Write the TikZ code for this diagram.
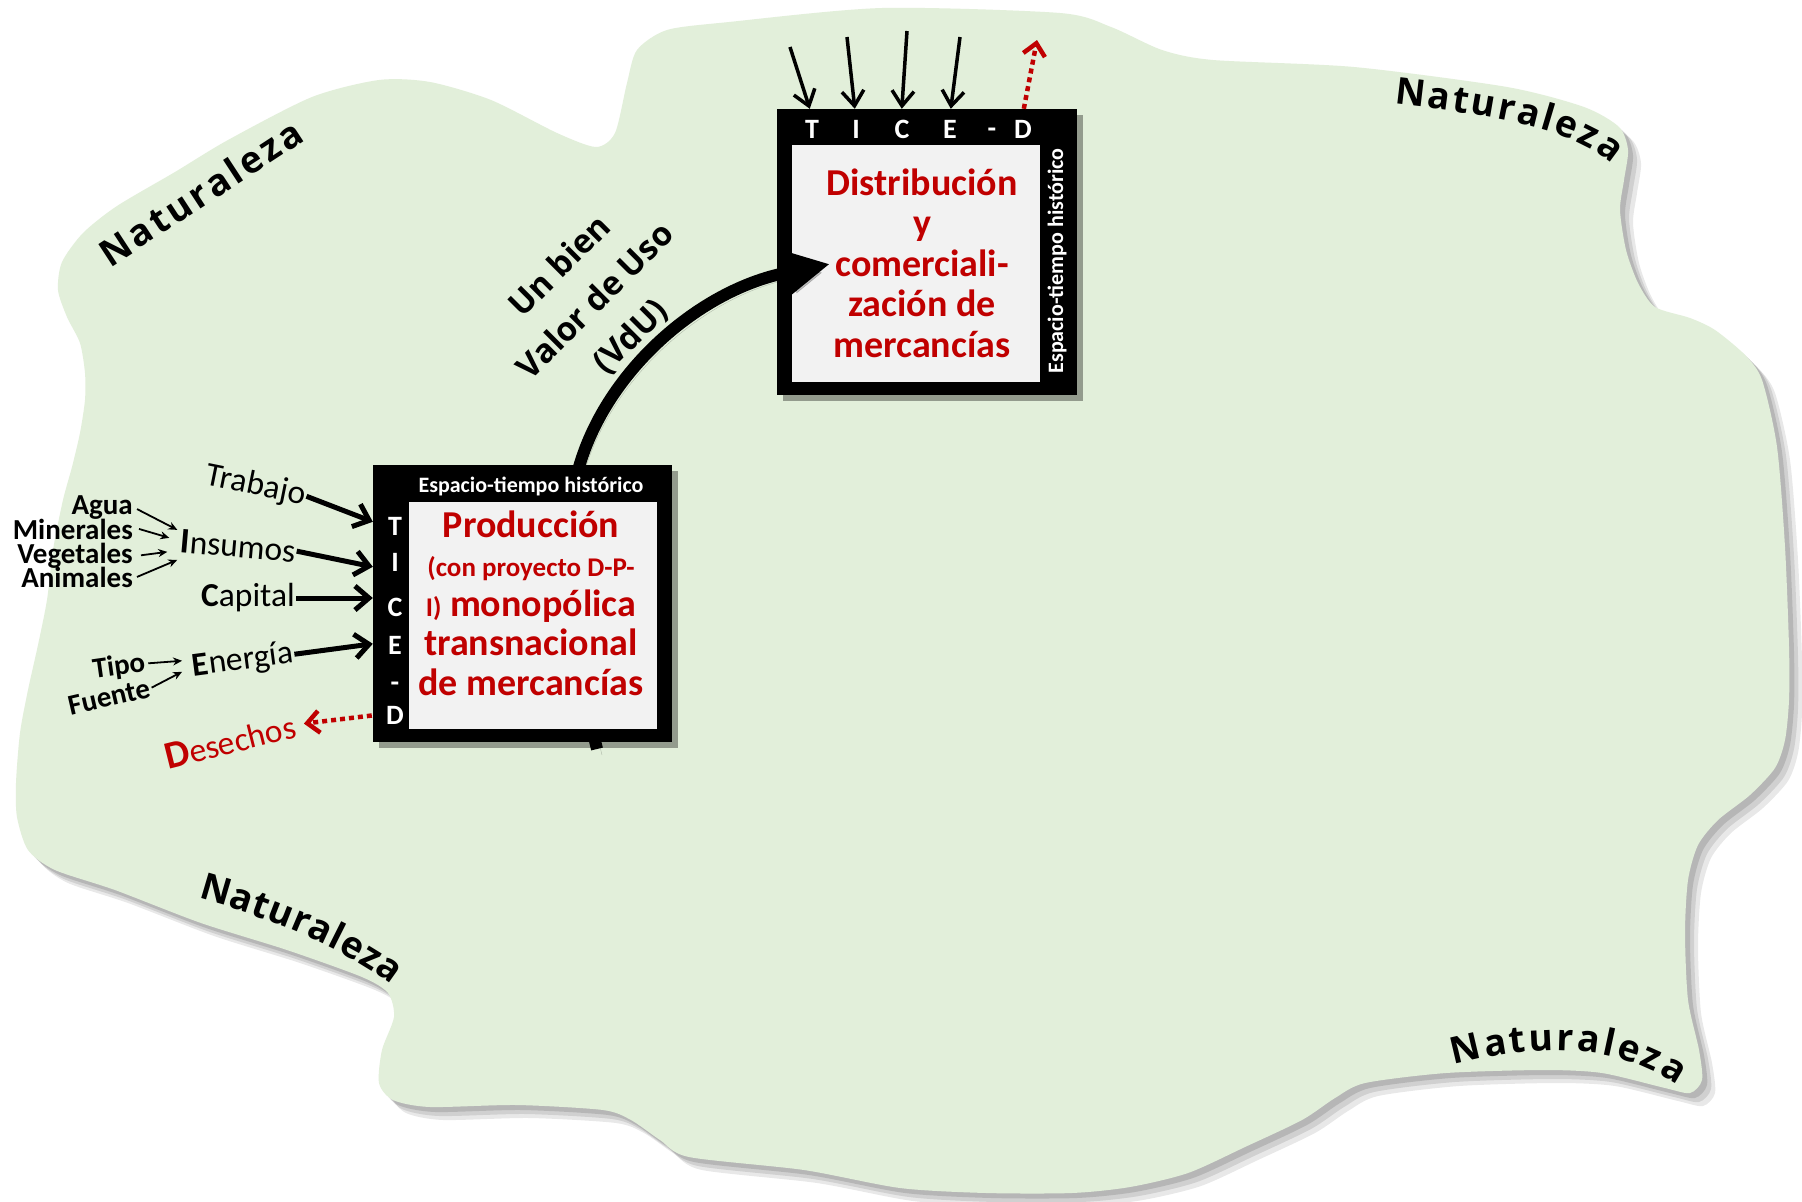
\documentclass[tikz,border=0pt]{standalone}
\usepackage{fontspec}
\setmainfont{Carlito}
\newfontfamily\osans{Open Sans}
\usetikzlibrary{arrows.meta,calc,shadows,decorations.text}
\definecolor{natgreen}{RGB}{226,239,218}
\definecolor{boxgray}{RGB}{242,242,242}
\definecolor{darkred}{RGB}{192,0,0}
\newcommand{\fsz}[1]{\fontsize{#1}{#1}\selectfont}
\newcommand{\naturfont}{\osans\bfseries\fontsize{37}{40}\selectfont}
\tikzset{
  lbl/.style={inner sep=1pt, font=\fsz{33.5}},
  src/.style={inner sep=0pt, font=\bfseries\fsz{29}},
  inarrow/.style={line width=5pt, -{Straight Barb[length=14pt,width=24pt]}},
  toparrow/.style={line width=3.5pt, -{Straight Barb[length=15pt,width=22pt]}},
  smallarrow/.style={line width=1.8pt, -{Stealth[length=9pt,width=8pt]}},
  wastearrow/.style={draw=darkred, line width=4.5pt, dash pattern=on 5pt off 4pt, -{Straight Barb[length=12pt,width=22pt]}},
  tice/.style={text=white, font=\bfseries\fsz{28}, inner sep=0pt},
  redtxt/.style={text=darkred, align=center, inner sep=0pt},
  header/.style={text=white, font=\bfseries\fsz{22}, inner sep=0pt},
  naturtext/.style={decorate, decoration={text along path, text={|\naturfont|Naturaleza}, text align=fit to path}},
  boxshadow/.style={drop shadow={shadow xshift=6pt, shadow yshift=-6pt, opacity=0.35, fill=black}},
}
\begin{document}
\begin{tikzpicture}[x=1pt,y=-1pt]
\fill[white, use as bounding box] (0,0) rectangle (1802,1202);

% nature blob
\path[fill=natgreen,
  preaction={fill=black, opacity=0.09, transform canvas={shift={(13pt,-13pt)}}},
  preaction={fill=black, opacity=0.10, transform canvas={shift={(9pt,-9pt)}}},
  preaction={fill=black, opacity=0.12, transform canvas={shift={(5pt,-5pt)}}}]
  plot[smooth cycle, tension=0.45] coordinates {
  (47,600) (53,550) (63,500) (72,467) (80,433) (85,400) (85,373) (80,343) (67,317)
  (58,290) (62,262) (83,233) (117,206) (175,172) (228,140) (312,97) (379,80)
  (430,82) (491,100) (557,133) (596,147) (615,133) (627,83) (637,50) (667,30)
  (729,22) (882,8) (1060,13) (1111,27) (1162,50) (1213,60) (1354,67) (1507,87)
  (1584,107) (1619,127) (1628,150) (1624,180) (1620,210) (1626,250) (1638,283)
  (1655,307) (1690,318) (1715,330) (1745,355) (1762,380) (1777,447) (1785,547)
  (1789,647) (1789,700) (1785,740) (1775,768) (1750,795) (1718,820) (1698,845)
  (1688,880) (1685,933) (1688,1000) (1699,1050) (1702,1080) (1690,1093)
  (1665,1088) (1602,1073) (1544,1070) (1446,1073) (1365,1083) (1335,1098)
  (1302,1120) (1245,1147) (1188,1173) (1130,1187) (1072,1193) (986,1193)
  (900,1188) (804,1170) (689,1157) (660,1140) (631,1120) (603,1110) (517,1105)
  (430,1107) (393,1100) (379,1083) (382,1050) (394,1017) (388,993) (362,977)
  (287,950) (201,923) (115,890) (55,870) (28,850) (17,817) (16,783) (20,733)
  (28,690) (38,645)};

% Naturaleza labels
\path[naturtext] (110,268) -- (306,140);
\path[naturtext] (1394,104) .. controls (1500,116) and (1575,130) .. (1612,164);
\path[naturtext] (198,898) .. controls (260,915) and (340,945) .. (392,985);
\path[naturtext] (1454,1065) .. controls (1530,1045) and (1610,1040) .. (1677,1085);

% distribution box
\node[fill=black, minimum width=300pt, minimum height=286pt, inner sep=0pt, boxshadow] (distbox) at (927,252) {};
\node[fill=boxgray, minimum width=248pt, minimum height=237pt, inner sep=0pt] (distin) at (916,263.5) {};
\node[redtxt, font=\bfseries\fontsize{38}{40.5}\selectfont] (disttxt) at (922,263)
  {Distribución\\y\\comerciali-\\zación de\\mercancías};
\foreach \l/\xx [count=\k] in {T/812,I/856,C/902,E/950,D/1023}
  \node[tice] (dt\k) at (\xx,129) {\l};
\node[tice] (dthy) at (992,133) {-};
\node[header, rotate=90] (disthead) at (1057,261) {Espacio-tiempo histórico};

% inputs to distribution
\coordinate (in1) at (790,47);
\coordinate (in2) at (847,37);
\coordinate (in3) at (907,31);
\coordinate (in4) at (960,37);
\draw[toparrow] (in1) -- ($(distbox.north west)+(33,0)$);
\draw[toparrow] (in2) -- ($(distbox.north west)+(78,0)$);
\draw[toparrow] (in3) -- ($(distbox.north west)+(125,0)$);
\draw[toparrow] (in4) -- ($(distbox.north west)+(174,0)$);
\coordinate (wtop) at (1037,40);
\draw[wastearrow] ($(distbox.north west)+(247,0)$) -- (wtop);

% big arc
\coordinate (arcS) at (597,749);
\coordinate (arcM) at (579,467);
\coordinate (arcE) at (830,264);
\draw[line width=12pt, -{Triangle[length=48pt,width=46pt]},
  preaction={draw=black, opacity=0.22, transform canvas={shift={(5pt,-6pt)}}}]
  (arcS) .. controls (570,640) and (570,540) .. (arcM)
  .. controls (607,370) and (700,290) .. (arcE);

\node[font=\osans\bfseries\fontsize{33}{50}\selectfont, align=center, rotate=45, inner sep=0pt] (vdu) at (596,302)
  {Un bien\\Valor de Uso\\(VdU)};

% production box
\node[fill=black, minimum width=299pt, minimum height=277pt, inner sep=0pt, boxshadow] (prodbox) at (522.5,603.5) {};
\node[fill=boxgray, minimum width=248pt, minimum height=227pt, inner sep=0pt] (prodin) at (533,615.5) {};
\node[header] (prodhead) at (531,486) {Espacio-tiempo histórico};
\foreach \l/\yy [count=\k] in {T/526,I/562,C/607,E/645,D/715}
  \node[tice] (pt\k) at (395,\yy) {\l};
\node[tice] (pthy) at (395,687) {-};
\node[redtxt, font=\bfseries\fontsize{38}{39.5}\selectfont] (prodtxt) at (531,603)
  {Producción\\{\fontsize{27}{39.5}\selectfont(con proyecto D-P-}\\{\fontsize{27}{39.5}\selectfont I)} monopólica\\transnacional\\de mercancías};

% inputs to production
\node[lbl, rotate=-11.5] (trabajo) at (256,486) {Trabajo};
\node[lbl, rotate=-5] (insumos) at (238,546) {{\bfseries\fontsize{36}{36}\selectfont I}nsumos};
\node[lbl] (capital) at (248,598) {{\bfseries C}apital};
\node[lbl, rotate=7.5] (energia) at (243,661) {{\bfseries E}nergía};

\draw[inarrow] (trabajo.east) -- ($(prodbox.north west)+(0,57)$);
\draw[inarrow] (insumos.east) -- ($(prodbox.north west)+(0,102)$);
\draw[inarrow] (capital.east) -- (capital.east -| prodbox.west);
\draw[inarrow] (energia.east) -- ($(prodbox.north west)+(0,179)$);

\node[src, anchor=base east] (agua) at (133,514) {Agua};
\node[src, anchor=base east] (minerales) at (133,539) {Minerales};
\node[src, anchor=base east] (vegetales) at (133,563) {Vegetales};
\node[src, anchor=base east] (animales) at (133,587) {Animales};
\draw[smallarrow] ($(agua.east)+(4,2)$) -- ($(insumos.west)+(-2,-11)$);
\draw[smallarrow] ($(minerales.east)+(6,0)$) -- ($(insumos.west)+(-10,-3)$);
\draw[smallarrow] ($(vegetales.east)+(8,0)$) -- ($(insumos.west)+(-12,11)$);
\draw[smallarrow] ($(animales.east)+(4,0)$) -- ($(insumos.west)+(-2,19)$);

\node[src, rotate=8] (tipo) at (119,667) {Tipo};
\node[src, rotate=13] (fuente) at (109,697) {Fuente};
\draw[smallarrow] ($(tipo.east)+(3,0)$) -- ($(energia.west)+(-9.5,-7)$);
\draw[smallarrow] ($(fuente.east)+(2,0)$) -- ($(energia.west)+(-9.5,4)$);

\node[lbl, text=darkred, rotate=14] (desechos) at (230,741) {{\bfseries\fontsize{39}{39}\selectfont D}esechos};
\draw[wastearrow, shorten >=8pt] ($(prodbox.west)+(-1,112)$) -- (desechos.east);
\end{tikzpicture}
\end{document}
